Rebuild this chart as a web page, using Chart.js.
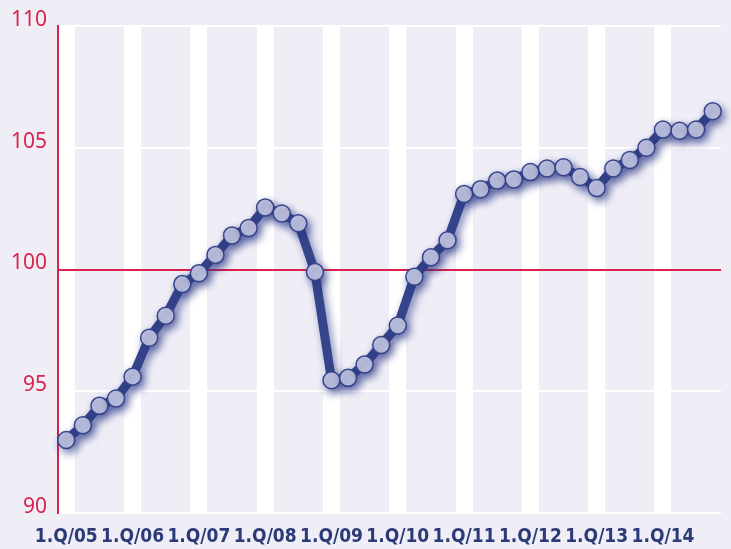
<!DOCTYPE html>
<html>
<head>
<meta charset="utf-8">
<script src="https://cdn.jsdelivr.net/npm/chart.js@4.4.1/dist/chart.umd.min.js"></script>
<style>
    html, body { margin: 0; padding: 0; background: #efeef7; }
    #wrap { width: 731px; height: 549px; position: relative; }
</style>
</head>
<body>
<div id="wrap"><canvas id="chart"></canvas></div>
<script>
// ================= Quarterly index chart =================
const years = ['05', '06', '07', '08', '09', '10', '11', '12', '13', '14'];
const quarters = [];
years.forEach(y => { for (let q = 1; q <= 4; q++) quarters.push(q + '.Q/' + y); });

const indexValues = [
    93.0, 93.6, 94.4, 94.7,
    95.6, 97.2, 98.1, 99.4,
    99.85, 100.6, 101.4, 101.7,
    102.55, 102.3, 101.9, 99.9,
    95.45, 95.55, 96.1, 96.9,
    97.7, 99.7, 100.5, 101.2,
    103.1, 103.3, 103.65, 103.7,
    104.0, 104.15, 104.2, 103.8,
    103.35, 104.15, 104.5, 105.0,
    105.75, 105.7, 105.75, 106.5
];

const yTicks = [90, 95, 100, 105, 110];

const navy = '#36458b';
const red = '#d9234b';

// soft shadow behind line and points
const shadowPlugin = {
    id: 'lineShadow',
    beforeDatasetsDraw(chart) {
        const ctx = chart.ctx;
        ctx.save();
        ctx.shadowColor = 'rgba(40, 52, 130, 0.6)';
        ctx.shadowBlur = 9;
        ctx.shadowOffsetX = 3;
        ctx.shadowOffsetY = 4;
    },
    afterDatasetsDraw(chart) {
        chart.ctx.restore();
    }
};

new Chart(document.getElementById('chart'), {
    type: 'line',
    data: {
        labels: quarters,
        datasets: [{
            data: indexValues,
            borderColor: navy,
            borderWidth: 9,
            tension: 0,
            pointRadius: 8.5,
            pointBackgroundColor: '#c0c3df',
            pointBorderColor: navy,
            pointBorderWidth: 1.5,
            clip: false
        }]
    },
    plugins: [shadowPlugin],
    options: {
        responsive: true,
        maintainAspectRatio: false,
        animation: false,
        layout: { padding: { top: 26, right: 0, bottom: 0, left: 0 } },
        plugins: { legend: { display: false }, tooltip: { enabled: false } },
        scales: {
            x: {
                offset: true,
                border: { display: false },
                grid: {
                    offset: false,
                    drawTicks: false,
                    lineWidth: 17,
                    color: ctx => (ctx.index % 4 === 0 ? '#ffffff' : 'rgba(0,0,0,0)')
                },
                ticks: {
                    autoSkip: false,
                    maxRotation: 0,
                    padding: 13,
                    color: '#2c3b78',
                    font: { family: '"DejaVu Sans Condensed", sans-serif', size: 19, weight: 'bold' },
                    callback: (v, i) => (i % 4 === 0 ? quarters[i] : '')
                },
                afterFit: axis => { axis.height = 36; }
            },
            y: {
                min: 90,
                max: 110,
                afterBuildTicks: axis => { axis.ticks = yTicks.map(v => ({ value: v })); },
                border: { display: true, color: red, width: 2 },
                grid: {
                    drawTicks: false,
                    lineWidth: 2,
                    color: ctx => (ctx.tick && ctx.tick.value === 100 ? red : '#ffffff')
                },
                ticks: {
                    padding: 11,
                    labelOffset: -6,
                    color: red,
                    font: { family: '"Noto Sans", sans-serif', size: 21 }
                },
                afterFit: axis => { axis.width = 58; }
            }
        }
    }
});
</script>
</body>
</html>
